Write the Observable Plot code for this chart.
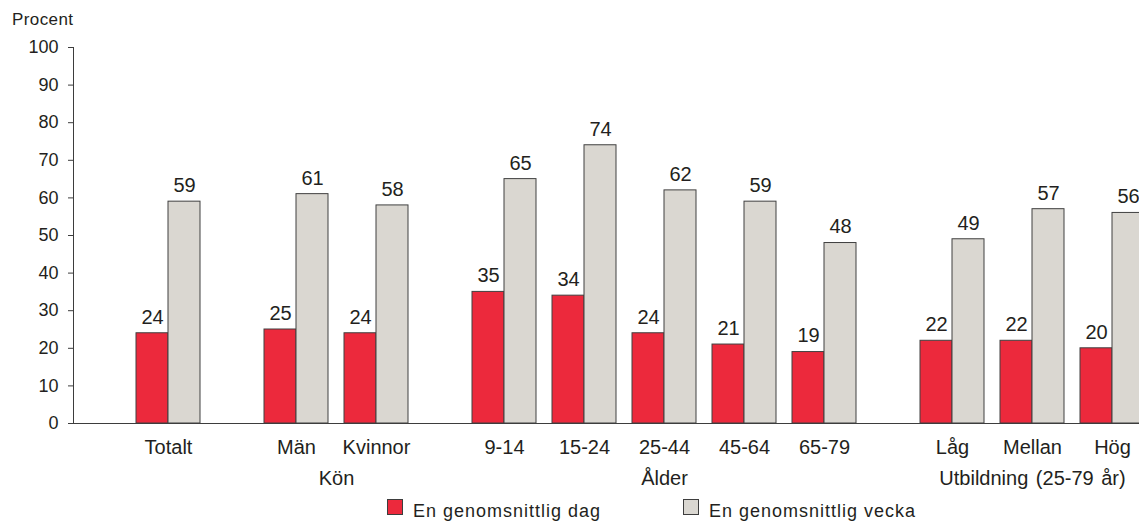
<!DOCTYPE html>
<html>
<head>
<meta charset="utf-8">
<script src="https://cdn.jsdelivr.net/npm/d3@7"></script>
<script src="https://cdn.jsdelivr.net/npm/@observablehq/plot@0.6"></script>
<style>
  html, body { margin: 0; padding: 0; background: #fff; overflow: hidden; }
  #wrap { position: relative; width: 1139px; height: 521px; overflow: hidden;
          font-family: "Liberation Sans", Arial, Helvetica, sans-serif; color: #231f20; }
  #ylab { position: absolute; left: 12px; top: 11px; font-size: 17px; line-height: 17px; letter-spacing: 0.4px; }
  .lg-sw { position: absolute; width: 14px; height: 14px; border: 1px solid #3d3d3d; top: 499px; }
  .lg-tx { position: absolute; font-size: 18px; line-height: 20px; top: 501px; letter-spacing: 1px; white-space: nowrap; }
  svg { display: block; }
</style>
</head>
<body>
<div id="wrap">
  <div id="chart"></div>
  <div id="ylab">Procent</div>
  <div id="legend"></div>
</div>
<script>
// ---- data ----
const categories = ["Totalt", "Män", "Kvinnor", "9-14", "15-24", "25-44", "45-64", "65-79", "Låg", "Mellan", "Hög"];
const groups = ["", "Kön", "Kön", "Ålder", "Ålder", "Ålder", "Ålder", "Ålder",
                "Utbildning (25-79 år)", "Utbildning (25-79 år)", "Utbildning (25-79 år)"];
const dag = [24, 25, 24, 35, 34, 24, 21, 19, 22, 22, 20];
const vecka = [59, 61, 58, 65, 74, 62, 59, 48, 49, 57, 56];
const seriesNames = ["En genomsnittlig dag", "En genomsnittlig vecka"];
const seriesColors = ["#ec293c", "#dad7d1"];
const yTicks = [0, 10, 20, 30, 40, 50, 60, 70, 80, 90, 100];

// ---- layout helpers (derived) ----
const groupOrder = Array.from(new Set(groups));
const groupGap = 0.6;
const pos = categories.map((c, i) => i + groupGap * groupOrder.indexOf(groups[i]));
const barW = 0.4;

const rows = [];
categories.forEach((c, i) => {
  rows.push({cat: c, series: seriesNames[0], value: dag[i], x1: pos[i] - barW, x2: pos[i]});
  rows.push({cat: c, series: seriesNames[1], value: vecka[i], x1: pos[i], x2: pos[i] + barW});
});
const catRows = categories.map((c, i) => ({cat: c, x: pos[i]}));
const groupRows = groupOrder.filter(g => g !== "").map(g => {
  const p = pos.filter((_, i) => groups[i] === g);
  return {group: g, x: d3.mean(p)};
});

const xDomain = [-1.1875, 12.1375];
const textColor = "#231f20";
const font = "Liberation Sans, Arial, Helvetica, sans-serif";

const chart = Plot.plot({
  width: 1139,
  height: 490,
  marginTop: 47,
  marginBottom: 67,
  marginLeft: 73,
  marginRight: 0,
  style: {fontFamily: font, fontSize: "18px", color: textColor, background: "#fff", overflow: "hidden"},
  x: {type: "linear", domain: xDomain, axis: null},
  y: {domain: [0, 100], axis: null},
  color: {domain: seriesNames, range: seriesColors},
  marks: [
    Plot.rectY(rows, {x1: "x1", x2: "x2", y1: 0, y2: "value", fill: "series",
      stroke: "#404040", strokeWidth: 1, clip: true}),
    Plot.text(rows, {x: d => (d.x1 + d.x2) / 2, y: "value", text: d => String(d.value),
      dy: -16, fontSize: 20, fill: textColor, letterSpacing: 1}),
    Plot.frame({anchor: "left", stroke: "#3d3d3d"}),
    Plot.frame({anchor: "bottom", stroke: "#3d3d3d"}),
    Plot.axisY({ticks: yTicks, tickSize: 5, tickPadding: 10, fontSize: 18, stroke: "#3d3d3d",
      fill: textColor, label: null}),
    Plot.text(catRows, {x: "x", y: 0, text: "cat", dy: 24, fontSize: 20, fill: textColor,
      letterSpacing: 1}),
    Plot.text(groupRows, {x: "x", y: 0, text: "group", dy: 55, fontSize: 20, fill: textColor,
      letterSpacing: 0.9})
  ]
});
d3.select(chart).selectAll("text")
  .filter(function() { return this.textContent.indexOf(" ") >= 0; })
  .style("word-spacing", "2px");
document.getElementById("chart").appendChild(chart);

// ---- legend ----
const legend = document.getElementById("legend");
const swLeft = [387, 683];
seriesNames.forEach((name, i) => {
  const sw = document.createElement("div");
  sw.className = "lg-sw";
  sw.style.left = swLeft[i] + "px";
  sw.style.background = seriesColors[i];
  legend.appendChild(sw);
  const tx = document.createElement("div");
  tx.className = "lg-tx";
  tx.style.left = (swLeft[i] + 26) + "px";
  tx.textContent = name;
  legend.appendChild(tx);
});
</script>
</body>
</html>
